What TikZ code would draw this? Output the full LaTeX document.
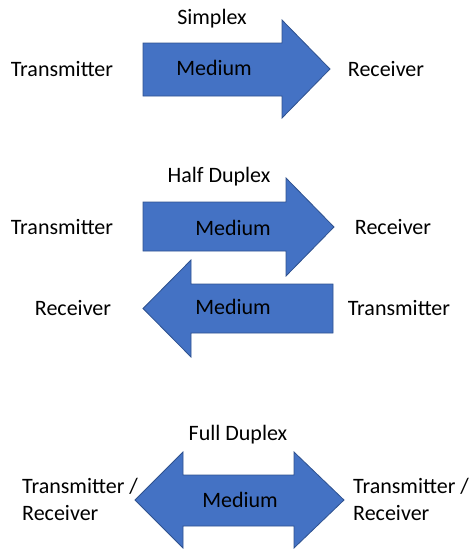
\documentclass[tikz,border=0pt]{standalone}
\usepackage{fontspec}
\setmainfont{Carlito}
\begin{document}
\begin{tikzpicture}[x=1pt,y=-1pt,
  arr/.style={fill={rgb,255:red,68;green,114;blue,196},draw={rgb,255:red,47;green,82;blue,143},line width=0.8pt,line join=miter},
  lbl/.style={font=\fontsize{22}{26}\selectfont,inner sep=0pt,anchor=base},
  lbll/.style={font=\fontsize{22}{27}\selectfont,inner sep=0pt,anchor=base west,align=left}]
\useasboundingbox (0,0) rectangle (474,550);
% Simplex
\draw[arr] (143,43) -- (282,43) -- (282,20) -- (330,69) -- (282,118) -- (282,96) -- (143,96) -- cycle;
\node[lbl] (s) at (212,24) {Simplex};
\node[lbl] (st) at (62,76) {Transmitter};
\node[lbl] (sm) at (214,75) {Medium};
\node[lbl] (sr) at (386,76) {Receiver};
% Half duplex
\draw[arr] (143,202) -- (286,202) -- (286,178) -- (334,227) -- (286,276) -- (286,251) -- (143,251) -- cycle;
\draw[arr] (333,284) -- (191,284) -- (191,260) -- (143,308.5) -- (191,357) -- (191,333) -- (333,333) -- cycle;
\node[lbl] (h) at (219,182) {Half Duplex};
\node[lbl] (ht) at (62,234) {Transmitter};
\node[lbl] (hm) at (233,235) {Medium};
\node[lbl] (hr) at (393,234) {Receiver};
\node[lbl] (hr2) at (73,315) {Receiver};
\node[lbl] (hm2) at (233,314) {Medium};
\node[lbl] (ht2) at (399,315) {Transmitter};
% Full duplex
\draw[arr] (135,500) -- (183,452) -- (183,475) -- (294,475) -- (294,452) -- (344,500) -- (294,548) -- (294,526) -- (183,526) -- (183,548) -- cycle;
\node[lbl] (f) at (238,440) {Full Duplex};
\node[lbl] (fm) at (240,507) {Medium};
\node[lbll] (fl) at (22,520) {Transmitter /\\Receiver};
\node[lbll] (fr) at (353,520) {Transmitter /\\Receiver};
\end{tikzpicture}
\end{document}
